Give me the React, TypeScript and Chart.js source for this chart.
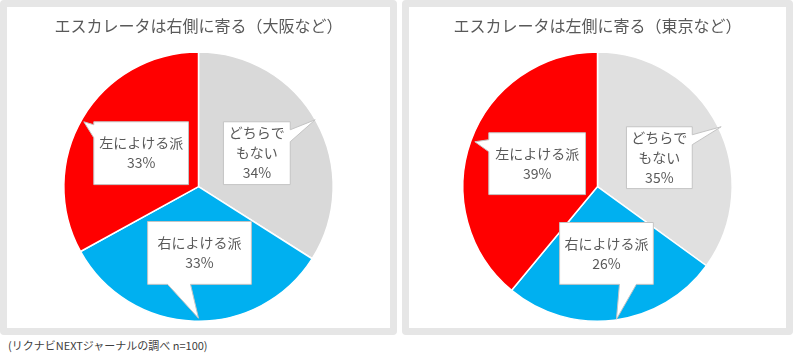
import React, { useEffect, useRef } from 'react';
import { Chart, registerables } from 'chart.js';

Chart.register(...registerables);

const categories = ['どちらでもない', '右によける派', '左によける派'];
const categoryLines = [['どちらで', 'もない'], ['右によける派'], ['左によける派']];
const osakaValues = [34, 33, 33];
const tokyoValues = [35, 26, 39];
const osakaTitle = 'エスカレータは右側に寄る（大阪など）';
const tokyoTitle = 'エスカレータは左側に寄る（東京など）';
const sourceNote = '(リクナビNEXTジャーナルの調べ n=100)';

const FONT = '"Noto Sans CJK JP", "Noto Sans", sans-serif';
const TEXT = '#595959';

type Spec = { bx: number; by: number; w: number; h: number; side: string; a: number; b: number; tx: number; ty: number };

const osakaCallouts: Spec[] = [
  { bx: 25, by: -65, w: 67, h: 63, side: 'right', a: 8, b: 20, tx: 117, ty: -67 },
  { bx: -51, by: 35, w: 104, h: 63, side: 'bottom', a: 20, b: 43, tx: 0, ty: 132 },
  { bx: -105, by: -65, w: 95, h: 63, side: 'left', a: 3, b: 16, tx: -115, ty: -65 },
];
const tokyoCallouts: Spec[] = [
  { bx: 29, by: -60, w: 66, h: 62, side: 'right', a: 8, b: 18, tx: 124, ty: -60 },
  { bx: -38, by: 36, w: 94, h: 62, side: 'bottom', a: 60, b: 77, tx: 19, ty: 133 },
  { bx: -109, by: -54, w: 97, h: 62, side: 'left', a: 7, b: 19, tx: -123, ty: -45 },
];

const calloutPlugin = {
  id: 'callouts',
  afterDatasetsDraw(chart: any, _args: any, opts: any) {
    const specs: Spec[] = opts.specs || [];
    const meta = chart.getDatasetMeta(0);
    const ds = chart.data.datasets[0];
    const ctx = chart.ctx;
    meta.data.forEach((arc: any, i: number) => {
      const sp = specs[i];
      if (!sp) return;
      const { x, y, outerRadius } = arc.getProps(['x', 'y', 'outerRadius'], true);
      const s = outerRadius / 135;
      const x0 = x + sp.bx * s;
      const y0 = y + sp.by * s;
      const x1 = x0 + sp.w * s;
      const y1 = y0 + sp.h * s;
      const tx = x + sp.tx * s;
      const ty = y + sp.ty * s;
      const a = sp.a * s;
      const b = sp.b * s;
      const pts: [number, number][] = [];
      pts.push([x0, y0]);
      if (sp.side === 'top') pts.push([x0 + a, y0], [tx, ty], [x0 + b, y0]);
      pts.push([x1, y0]);
      if (sp.side === 'right') pts.push([x1, y0 + a], [tx, ty], [x1, y0 + b]);
      pts.push([x1, y1]);
      if (sp.side === 'bottom') pts.push([x0 + b, y1], [tx, ty], [x0 + a, y1]);
      pts.push([x0, y1]);
      if (sp.side === 'left') pts.push([x0, y0 + b], [tx, ty], [x0, y0 + a]);
      ctx.save();
      ctx.beginPath();
      pts.forEach((p, k) => (k === 0 ? ctx.moveTo(p[0], p[1]) : ctx.lineTo(p[0], p[1])));
      ctx.closePath();
      ctx.fillStyle = '#ffffff';
      ctx.fill();
      ctx.strokeStyle = '#c4c4c4';
      ctx.lineWidth = 1;
      ctx.stroke();
      const lines = [...categoryLines[i], `${ds.data[i]}%`];
      ctx.fillStyle = TEXT;
      ctx.font = `14px ${FONT}`;
      ctx.textAlign = 'center';
      ctx.textBaseline = 'middle';
      const cx = (x0 + x1) / 2;
      const cy = (y0 + y1) / 2;
      const lh = 20;
      lines.forEach((t, k) => {
        ctx.fillText(t, cx, cy + (k - (lines.length - 1) / 2) * lh);
      });
      ctx.restore();
    });
  },
};

function PiePanel(props: { title: string; values: number[]; grey: string; specs: Spec[]; width: number; height: number }) {
  const ref = useRef<HTMLCanvasElement>(null);
  useEffect(() => {
    if (!ref.current) return;
    const chart = new Chart(ref.current, {
      type: 'pie',
      data: {
        labels: categories,
        datasets: [
          {
            data: props.values,
            backgroundColor: [props.grey, '#00b0f0', '#ff0000'],
            borderColor: '#ffffff',
            borderWidth: 1.5,
          },
        ],
      },
      options: {
        responsive: false,
        animation: false,
        devicePixelRatio: 1,
        events: [],
        layout: { padding: { top: 0, bottom: 6, left: 0, right: 0 } },
        plugins: {
          legend: { display: false },
          tooltip: { enabled: false },
          title: {
            display: true,
            text: props.title,
            color: TEXT,
            font: { size: 16, family: FONT, weight: 'normal' },
            padding: { top: 9, bottom: 16 },
          },
          callouts: { specs: props.specs },
        } as any,
      },
      plugins: [calloutPlugin as any],
    });
    return () => chart.destroy();
  }, []);
  return <canvas ref={ref} width={props.width} height={props.height} style={{ display: 'block' }} />;
}

const panelStyle = (left: number, width: number): React.CSSProperties => ({
  position: 'absolute',
  left,
  top: 0,
  width,
  height: 335,
  boxSizing: 'border-box',
  border: '7px solid #e6e6e6',
  borderRadius: 4,
  background: '#ffffff',
  overflow: 'hidden',
});

export default function App() {
  return (
    <div style={{ position: 'fixed', left: 0, top: 0, width: 800, height: 356, background: '#ffffff', fontFamily: FONT }}>
      <div style={panelStyle(0, 397)}>
        <PiePanel title={osakaTitle} values={osakaValues} grey="#d9d9d9" specs={osakaCallouts} width={383} height={321} />
      </div>
      <div style={panelStyle(402, 391)}>
        <PiePanel title={tokyoTitle} values={tokyoValues} grey="#e0e0e0" specs={tokyoCallouts} width={377} height={321} />
      </div>
      <div style={{ position: 'absolute', left: 8, top: 337, fontSize: 11, lineHeight: '16px', color: '#404040', whiteSpace: 'nowrap' }}>
        {sourceNote}
      </div>
    </div>
  );
}
